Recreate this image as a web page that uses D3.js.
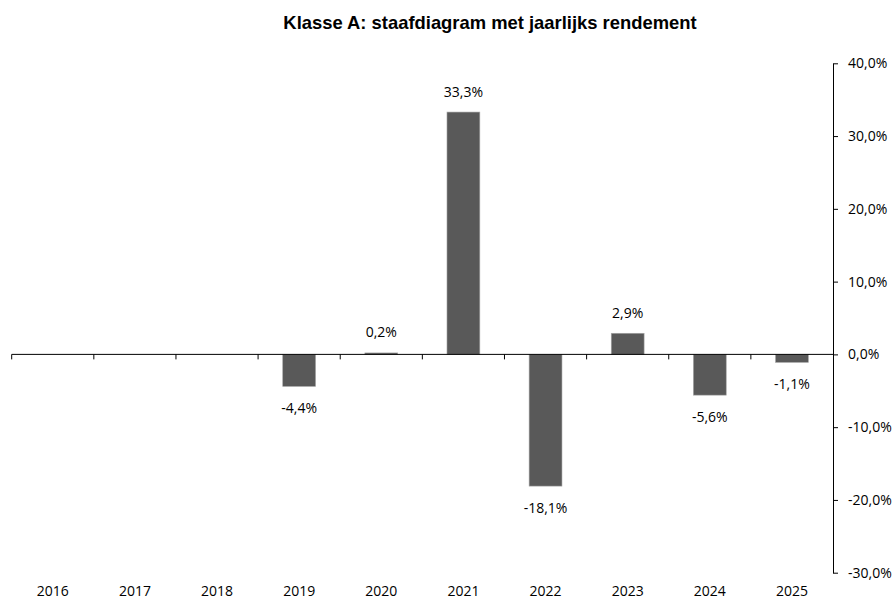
<!DOCTYPE html>
<html>
<head>
<meta charset="utf-8">
<script src="https://cdn.jsdelivr.net/npm/d3@7"></script>
<style>
  body { margin: 0; background: #fff; }
  svg { display: block; }
</style>
</head>
<body>
<svg id="chart" width="894" height="600"></svg>
<script>
// Jaarlijks rendement per jaar (in %); null = geen gegevens
const years = ["2016", "2017", "2018", "2019", "2020", "2021", "2022", "2023", "2024", "2025"];
const returns = [null, null, null, -4.4, 0.2, 33.3, -18.1, 2.9, -5.6, -1.1];
const yTicks = [40, 30, 20, 10, 0, -10, -20, -30];

const svg = d3.select("#chart"),
    plotLeft = 11.7,
    plotRight = 833,
    plotTop = 63.3,
    plotBottom = 572.7,
    labelFont = "'Open Sans', sans-serif";

// Bars take ~40% of each category slot, the plain band scale gives the slot edges.
const x = d3.scaleBand().domain(years).range([plotLeft, plotRight]).paddingInner(0.6).paddingOuter(0.3);
const xb = d3.scaleBand().domain(years).range([plotLeft, plotRight]);
const y = d3.scaleLinear().domain([-30, 40]).range([plotBottom, plotTop]);

const fmt = (v) => v.toFixed(1).replace(".", ",") + "%";

// Title
svg.append("text")
    .attr("x", 490)
    .attr("y", 29)
    .attr("text-anchor", "middle")
    .attr("font-family", "'Liberation Sans', Arial, sans-serif")
    .attr("font-weight", "bold")
    .attr("font-size", 18.4)
    .attr("fill", "#000")
    .text("Klasse A: staafdiagram met jaarlijks rendement");

const data = years.map((yr, i) => ({ year: yr, value: returns[i] })).filter((d) => d.value !== null);

// Bars
svg.append("g")
    .selectAll("rect")
    .data(data)
    .enter()
    .append("rect")
    .attr("x", (d) => x(d.year))
    .attr("width", x.bandwidth())
    .attr("y", (d) => y(Math.max(0, d.value)))
    .attr("height", (d) => Math.abs(y(d.value) - y(0)))
    .attr("fill", "#595959")
    .attr("stroke", "#a6a6a6")
    .attr("stroke-width", 0.6);

// Data labels
svg.append("g")
    .selectAll("text")
    .data(data)
    .enter()
    .append("text")
    .attr("x", (d) => x(d.year) + x.bandwidth() / 2)
    .attr("y", (d) => d.value >= 0 ? y(d.value) - 15.5 : y(d.value) + 27)
    .attr("text-anchor", "middle")
    .attr("font-family", labelFont)
    .attr("font-size", 14)
    .attr("fill", "#000")
    .text((d) => fmt(d.value));

// Zero line with category tick marks
const xAxis = svg.append("g").attr("stroke", "#000").attr("stroke-width", 1);
xAxis.append("line")
    .attr("x1", plotLeft).attr("x2", plotRight)
    .attr("y1", y(0)).attr("y2", y(0));
xAxis.selectAll("line.tick")
    .data(years)
    .enter()
    .append("line")
    .attr("class", "tick")
    .attr("x1", (d) => xb(d)).attr("x2", (d) => xb(d))
    .attr("y1", y(0)).attr("y2", y(0) + 5);

// Year labels along the bottom
svg.append("g")
    .selectAll("text")
    .data(years)
    .enter()
    .append("text")
    .attr("x", (d) => xb(d) + xb.bandwidth() / 2)
    .attr("y", 595.5)
    .attr("text-anchor", "middle")
    .attr("font-family", labelFont)
    .attr("font-size", 14)
    .attr("fill", "#000")
    .text((d) => d);

// Right value axis
const yAxis = svg.append("g")
    .attr("transform", `translate(${plotRight},0)`)
    .call(d3.axisRight(y).tickValues(yTicks).tickSize(5).tickSizeOuter(0).tickPadding(10).tickFormat(fmt));
yAxis.select(".domain").attr("stroke", "#000");
yAxis.selectAll(".tick line").attr("stroke", "#000");
yAxis.selectAll(".tick text")
    .attr("font-family", labelFont)
    .attr("font-size", 14)
    .attr("fill", "#000");
</script>
</body>
</html>
